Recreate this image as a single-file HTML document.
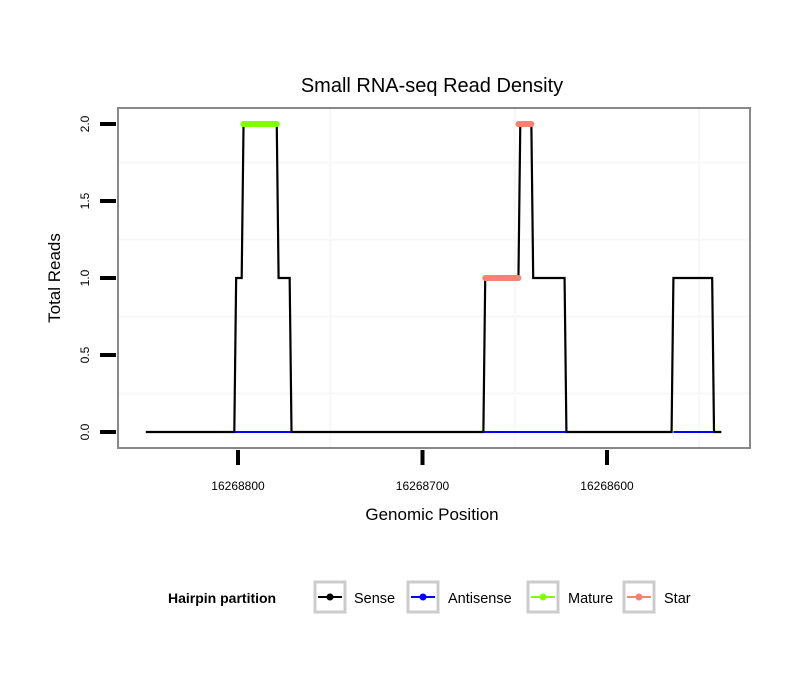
<!DOCTYPE html>
<html><head><meta charset="utf-8"><style>
body{margin:0;background:#fff;}
svg text{font-family:"Liberation Sans",sans-serif;}
</style></head><body>
<svg id="chart" width="810" height="690" xmlns="http://www.w3.org/2000/svg">
<text x="432" y="92" font-size="20" text-anchor="middle">Small RNA-seq Read Density</text>
<rect x="118" y="108" width="632" height="340" fill="#fff"/>
<g id="grid"></g>
<g id="series"></g>
<rect x="118" y="108" width="632" height="340" fill="none" stroke="#888" stroke-width="2"/>
<g id="axes"></g>
<text x="432" y="520" font-size="17" text-anchor="middle">Genomic Position</text>
<text transform="translate(60,278) rotate(-90)" font-size="17" text-anchor="middle">Total Reads</text>
<g>
<text x="168" y="603" font-size="14" font-weight="bold">Hairpin partition</text>
<g><rect x="315" y="582" width="30" height="30" fill="#fff" stroke="#ccc" stroke-width="3"/><line x1="318" y1="597" x2="342" y2="597" stroke="#000" stroke-width="2"/><circle cx="330" cy="597" r="3.5" fill="#000"/><text x="354" y="603" font-size="14.5">Sense</text></g>
<g><rect x="408" y="582" width="30" height="30" fill="#fff" stroke="#ccc" stroke-width="3"/><line x1="411" y1="597" x2="435" y2="597" stroke="#00f" stroke-width="2"/><circle cx="423" cy="597" r="3.5" fill="#00f"/><text x="448" y="603" font-size="14.5">Antisense</text></g>
<g><rect x="528" y="582" width="30" height="30" fill="#fff" stroke="#ccc" stroke-width="3"/><line x1="531" y1="597" x2="555" y2="597" stroke="#7fff00" stroke-width="2"/><circle cx="543" cy="597" r="3.5" fill="#7fff00"/><text x="568" y="603" font-size="14.5">Mature</text></g>
<g><rect x="624" y="582" width="30" height="30" fill="#fff" stroke="#ccc" stroke-width="3"/><line x1="627" y1="597" x2="651" y2="597" stroke="#fa8072" stroke-width="2"/><circle cx="639" cy="597" r="3.5" fill="#fa8072"/><text x="664" y="603" font-size="14.5">Star</text></g>
</g>
</svg>
<script>
const xTicks=[16268800,16268700,16268600];
const yTicks=[0,0.5,1,1.5,2];
const yTickLabels=["0.0","0.5","1.0","1.5","2.0"];
const xMinorGrid=[16268750,16268650,16268550];
const yMinorGrid=[0.25,0.75,1.25,1.75];
const sensePos=[16268850,16268802,16268801,16268798,16268797,16268779,16268778,16268772,16268771,16268667,16268666,16268648,16268647,16268641,16268640,16268623,16268622,16268565,16268564,16268543,16268542,16268538];
const senseVal=[0,0,1,1,2,2,1,1,0,0,1,1,2,2,1,1,0,0,1,1,0,0];
const antisenseRanges=[[16268802,16268771],[16268667,16268622],[16268564,16268542]];
const maturePos=[16268797,16268779];
const matureVal=[2,2];
const starPos1=[16268666,16268648];
const starVal1=[1,1];
const starPos2=[16268648,16268641];
const starVal2=[2,2];
function X(p){return 238+(16268800-p)*1.845;}
function Y(v){return 432-v*154;}
const NS="http://www.w3.org/2000/svg";
function mk(tag,attrs,parent){const e=document.createElementNS(NS,tag);for(const k in attrs)e.setAttribute(k,attrs[k]);parent.appendChild(e);return e;}
const grid=document.getElementById('grid'),ser=document.getElementById('series'),ax=document.getElementById('axes');
xMinorGrid.forEach(p=>{const l=mk('line',{x1:X(p),x2:X(p),y1:109,y2:447,stroke:'#f7f7f7','stroke-width':2},grid);

});
yMinorGrid.forEach(v=>{const l=mk('line',{x1:119,x2:749,y1:Y(v),y2:Y(v),stroke:'#f7f7f7','stroke-width':2},grid);

});
function path(ps,vs){return ps.map((p,i)=>(i?'L':'M')+X(p)+','+Y(vs[i])).join(' ');}
const s=mk('path',{d:path(sensePos,senseVal),fill:'none',stroke:'#000','stroke-width':2.2},ser);


antisenseRanges.forEach(r=>{const l=mk('line',{x1:X(r[0]),x2:X(r[1]),y1:Y(0),y2:Y(0),stroke:'#00f','stroke-width':2},ser);

});
const m=mk('path',{d:path(maturePos,matureVal),stroke:'#7fff00','stroke-width':6,'stroke-linecap':'round',fill:'none'},ser);


[[starPos1,starVal1],[starPos2,starVal2]].forEach(a=>{const l=mk('path',{d:path(a[0],a[1]),stroke:'#fa8072','stroke-width':6,'stroke-linecap':'round',fill:'none'},ser);

});
xTicks.forEach(p=>{const t=mk('line',{x1:X(p),x2:X(p),y1:450,y2:465,stroke:'#000','stroke-width':4},ax);


const tx=mk('text',{x:X(p),y:490,'font-size':12,'text-anchor':'middle'},ax);tx.textContent=p;

});
yTicks.forEach((v,i)=>{const t=mk('line',{x1:100,x2:116,y1:Y(v),y2:Y(v),stroke:'#000','stroke-width':4},ax);


const tx=mk('text',{transform:'translate(89,'+Y(v)+') rotate(-90)','font-size':12,'text-anchor':'middle'},ax);tx.textContent=yTickLabels[i];

});
</script>
</body></html>
